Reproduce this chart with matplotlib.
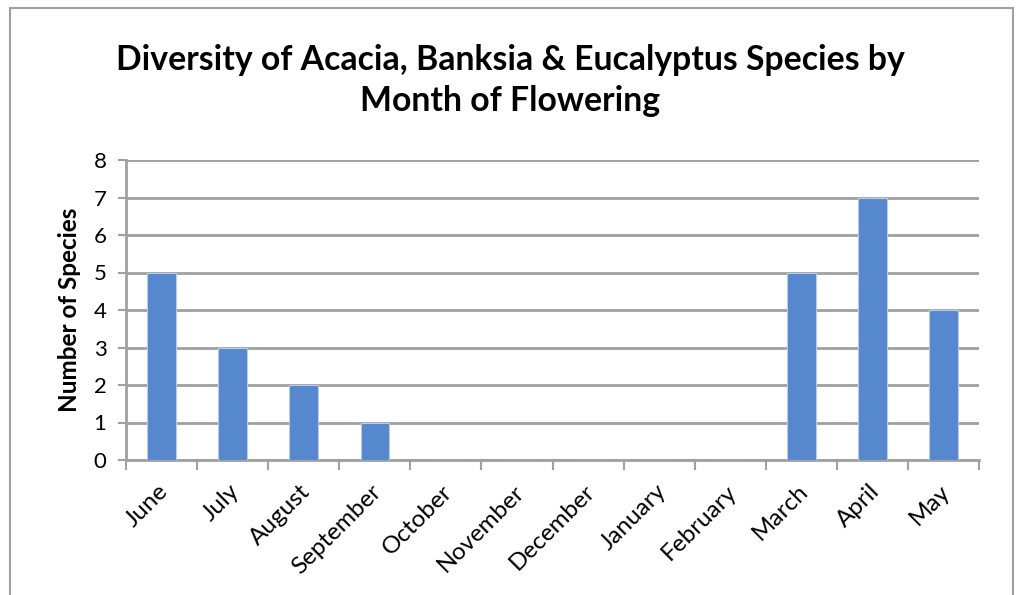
import matplotlib
matplotlib.use("Agg")
import matplotlib.pyplot as plt
from matplotlib.patches import Rectangle
import matplotlib.transforms as mtransforms
import numpy as np

months = ["June", "July", "August", "September", "October", "November",
          "December", "January", "February", "March", "April", "May"]
species = [5, 3, 2, 1, 0, 0, 0, 0, 0, 5, 7, 4]
y_ticks = [0, 1, 2, 3, 4, 5, 6, 7, 8]

plt.rcParams['font.family'] = ['Lato', 'DejaVu Sans']

fig = plt.figure(figsize=(10.21, 5.95), dpi=100)
ax = fig.add_axes([126/1021, 1-460/595, (979-126)/1021, 300/595])

grid_c = '#a0a0a0'
x = np.arange(len(months))
ax.bar(x, species, width=0.4, color='#5588CF', edgecolor='#b8cce8', linewidth=0.8, zorder=3)

ax.set_xlim(-0.5, len(months) - 0.5)
ax.set_ylim(0, 8)
ax.set_yticks(y_ticks)
ax.set_yticklabels([str(v) for v in y_ticks], fontsize=16)
ax.yaxis.grid(True, color=grid_c, linewidth=2, zorder=0)
ax.set_axisbelow(True)

for s in ['top', 'right']:
    ax.spines[s].set_visible(False)
for s in ['left', 'bottom']:
    ax.spines[s].set_color(grid_c)
    ax.spines[s].set_linewidth(2)

ax.tick_params(axis='y', length=6, width=1.5, color=grid_c, pad=8)
ax.set_xticks(x)
ax.set_xticklabels(months, rotation=45, ha='right', rotation_mode='anchor', fontsize=17.5)
ax.tick_params(axis='x', which='major', length=0, pad=15)
offset = mtransforms.ScaledTranslation(-4/100, 0, fig.dpi_scale_trans)
for lbl in ax.get_xticklabels():
    lbl.set_transform(lbl.get_transform() + offset)
ax.set_xticks(np.arange(-0.5, len(months)), minor=True)
ax.tick_params(axis='x', which='minor', length=7, width=1.5, color=grid_c)

ax.set_ylabel("Number of Species", fontsize=17.5, fontweight='bold', labelpad=9)

fig.text(0.5, 1-60/595, "Diversity of Acacia, Banksia & Eucalyptus Species by",
         ha='center', va='center', fontsize=24.3, fontweight='bold')
fig.text(0.5, 1-101/595, "Month of Flowering",
         ha='center', va='center', fontsize=24.3, fontweight='bold')

fig.patches.append(Rectangle((10/1021, -0.05), (1013-10)/1021, 1.05 - 8/595 + 0.0,
                             transform=fig.transFigure, fill=False,
                             edgecolor=grid_c, linewidth=1.5))

fig.savefig("out.png", dpi=100)
